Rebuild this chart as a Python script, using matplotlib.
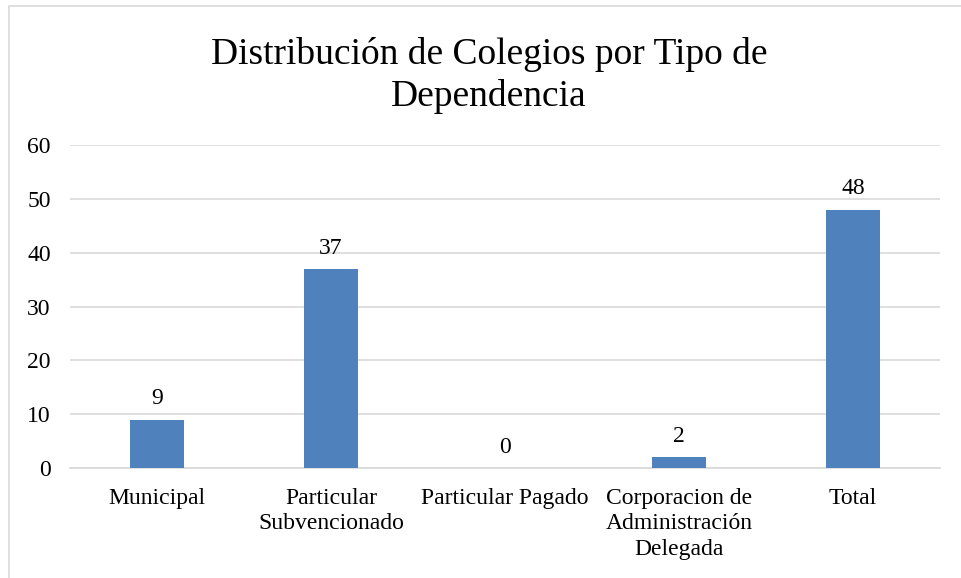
import matplotlib.pyplot as plt
from matplotlib.patches import Rectangle

plt.rcParams['font.family'] = ['Liberation Serif', 'DejaVu Serif']

categories = ['Municipal', 'Particular\nSubvencionado', 'Particular Pagado',
              'Corporacion de\nAdministración\nDelegada', 'Total']
values = [9, 37, 0, 2, 48]
yticks = [0, 10, 20, 30, 40, 50, 60]

fig = plt.figure(figsize=(9.61, 5.78), dpi=100)
ax = fig.add_axes([0.073, 0.19, 0.905, 0.559])

# outer chart border (only top and left visible in the reference)
fig.patches.append(Rectangle((9 / 961, -0.1), 1.2, 1 - 6 / 578 + 0.1,
                             transform=fig.transFigure, fill=False,
                             edgecolor='#D9D9D9', linewidth=1.2))

x = list(range(len(categories)))
bars = ax.bar(x, values, width=0.31, color='#4F81BD', zorder=3)
for bar, v in zip(bars, values):
    ax.text(bar.get_x() + bar.get_width() / 2, v + 1.9, str(v),
            ha='center', va='bottom', fontsize=17)

ax.set_xlim(-0.5, len(categories) - 0.5)
ax.set_ylim(0, 60)
ax.set_yticks(yticks)
ax.set_xticks(x)
ax.set_xticklabels(categories, fontsize=17, va='top', linespacing=1.3)
ax.tick_params(axis='y', labelsize=17, length=0, pad=14)
ax.tick_params(axis='x', length=0, pad=14)
ax.grid(axis='y', color='#D9D9D9', linewidth=1.2, zorder=0)
for s in ['top', 'right', 'left']:
    ax.spines[s].set_visible(False)
ax.spines['bottom'].set_color('#D9D9D9')
ax.spines['bottom'].set_linewidth(1.2)

fig.text(0.509, 0.870, 'Distribución de Colegios por Tipo de\nDependencia',
         ha='center', va='center', fontsize=27, linespacing=1.25)

fig.savefig('out.png', dpi=100)
